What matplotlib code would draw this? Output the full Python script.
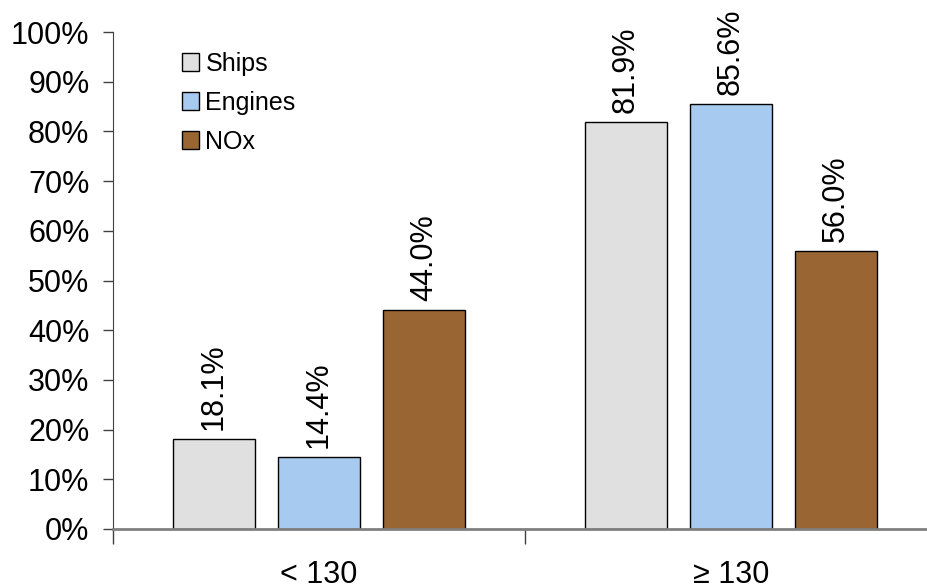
import numpy as np
import matplotlib.pyplot as plt

plt.rcParams['font.family'] = ['Liberation Sans', 'DejaVu Sans']

# data
categories = ['< 130', '\u2265 130']
series = ['Ships', 'Engines', 'NOx']
ships = [18.1, 81.9]
engines = [14.4, 85.6]
nox = [44.0, 56.0]
colors = ['#E0E0E0', '#A6CAF0', '#996633']

fig = plt.figure(figsize=(9.27, 5.88), dpi=100)
ax = fig.add_axes([113 / 927, 59 / 588, 814 / 927, 497 / 588])

x = np.arange(len(categories))
width = 0.197
step = 0.255
for i, (name, vals, col) in enumerate(zip(series, [ships, engines, nox], colors)):
    pos = x + (i - 1) * step
    ax.bar(pos, vals, width, color=col, edgecolor='black', linewidth=1.0,
           label=name, zorder=2)
    for p, v in zip(pos, vals):
        ax.text(p, v + 1.8, '%.1f%%' % v, rotation=90, ha='center', va='bottom',
                fontsize=22)

ax.set_yticks(np.arange(0, 101, 10))
ax.set_yticklabels(['%d%%' % t for t in range(0, 101, 10)], fontsize=22)
ax.tick_params(axis='y', length=7, width=1, color='#404040', pad=10)

ax.set_xticks(x)
ax.set_xticklabels(categories, fontsize=22)
ax.tick_params(axis='x', which='major', length=0, pad=22)
ax.set_xticks([-0.5, 0.5, 1.5], minor=True)
ax.tick_params(axis='x', which='minor', length=11, width=1, color='#404040')

# limits after the ticks, since set_xticks widens the view
ax.set_ylim(0, 100)
ax.set_xlim(-0.5, -0.5 + 814 / 412)

for s in ['top', 'right']:
    ax.spines[s].set_visible(False)
ax.spines['left'].set_color('#404040')
ax.spines['bottom'].set_color('#808080')
ax.spines['bottom'].set_linewidth(2)

ax.legend(loc='upper left', bbox_to_anchor=(0.072, 0.98), frameon=False,
          fontsize=18, handlelength=0.7, handleheight=0.7, handletextpad=0.25,
          labelspacing=0.6, borderaxespad=0)

fig.savefig('out.png', dpi=100)
